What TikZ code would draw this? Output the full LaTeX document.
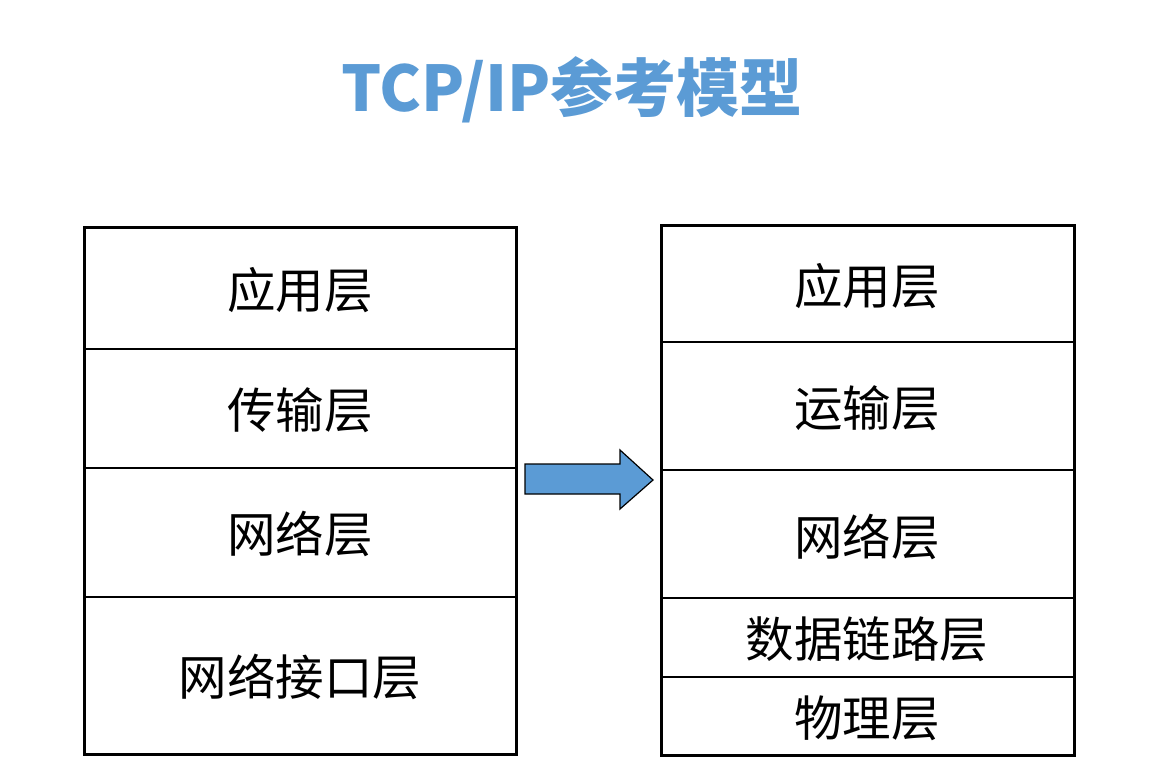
\documentclass[tikz,border=0pt]{standalone}
\usepackage{fontspec}
\newfontfamily\cjk{Noto Sans CJK SC}
\definecolor{tblue}{HTML}{5B9BD5}
\begin{document}
\begin{tikzpicture}[x=1pt,y=-1pt,
  outer/.style={draw=black,line width=3pt},
  inner/.style={draw=black,line width=1.6pt},
  lbl/.style={font=\cjk\fontsize{48.5}{52}\selectfont,inner sep=0pt,anchor=center},
  ttl/.style={font=\cjk\bfseries\fontsize{63}{66}\selectfont,text=tblue,inner sep=0pt,anchor=center},
  bigarrow/.style={draw=black,line width=1.2pt,fill=tblue,line join=miter}]
\useasboundingbox (0,0) rectangle (1164,758);
\node[ttl] (title) at (572,90) {TCP/IP参考模型};
% left stack
\draw[inner] (84,349) -- (516,349);
\draw[inner] (84,468) -- (516,468);
\draw[inner] (84,597) -- (516,597);
\draw[outer] (84,227) rectangle (516,754);
\node[lbl] (l1) at (300,290) {应用层};
\node[lbl] (l2) at (300,410) {传输层};
\node[lbl] (l3) at (300,534) {网络层};
\node[lbl] (l4) at (300,677) {网络接口层};
% right stack
\draw[inner] (661,342) -- (1074,342);
\draw[inner] (661,470) -- (1074,470);
\draw[inner] (661,598) -- (1074,598);
\draw[inner] (661,677) -- (1074,677);
\draw[outer] (661,225) rectangle (1074,755);
\node[lbl] (r1) at (867,286) {应用层};
\node[lbl] (r2) at (867,408) {运输层};
\node[lbl] (r3) at (867,537) {网络层};
\node[lbl] (r4) at (867,639) {数据链路层};
\node[lbl] (r5) at (867,718) {物理层};
% arrow
\draw[bigarrow] (525,464) -- (620,464) -- (620,450) -- (653,480) -- (620,509) -- (620,494) -- (525,494) -- cycle;
\end{tikzpicture}
\end{document}
